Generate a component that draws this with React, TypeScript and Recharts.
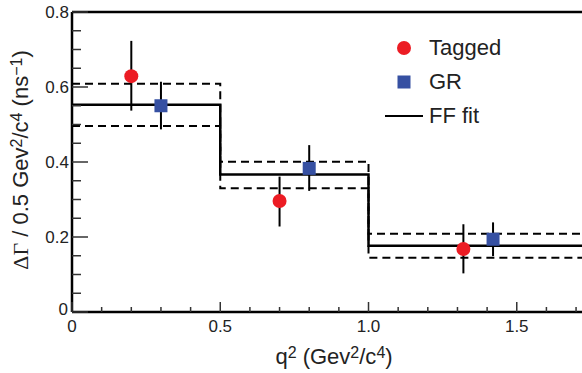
import {
  ComposedChart,
  Line,
  Scatter,
  ErrorBar,
  XAxis,
  YAxis,
  ReferenceLine,
  Legend,
} from 'recharts';

// bin edges of the q2 histogram and the form-factor fit with its error band
const binEdges = [0, 0.5, 1.0, 2.0];
const fitValues = [0.553, 0.367, 0.177, 0.177];
const fitUpper = [0.609, 0.401, 0.209, 0.209];
const fitLower = [0.496, 0.33, 0.145, 0.145];

// measured points: x, y, err down, err up
const taggedX = [0.2, 0.7, 1.32];
const taggedY = [0.629, 0.296, 0.168];
const taggedErrLow = [0.092, 0.068, 0.065];
const taggedErrHigh = [0.094, 0.065, 0.066];

const grX = [0.3, 0.8, 1.42];
const grY = [0.55, 0.383, 0.194];
const grErrLow = [0.063, 0.06, 0.045];
const grErrHigh = [0.064, 0.062, 0.045];

const xTicks = [0, 0.1, 0.2, 0.3, 0.4, 0.5, 0.6, 0.7, 0.8, 0.9, 1.0, 1.1, 1.2, 1.3, 1.4, 1.5, 1.6, 1.7];
const xMajor = [0, 0.5, 1.0, 1.5];
const xMajorLabels = ['0', '0.5', '1.0', '1.5'];
const yTicks = [0, 0.05, 0.1, 0.15, 0.2, 0.25, 0.3, 0.35, 0.4, 0.45, 0.5, 0.55, 0.6, 0.65, 0.7, 0.75, 0.8];
const yMajor = [0, 0.2, 0.4, 0.6, 0.8];
const yMajorLabels = ['0', '0.2', '0.4', '0.6', '0.8'];

const RED = '#ec1c24';
const BLUE = '#3650a2';
const FONT = '"Liberation Sans", Arial, Helvetica, sans-serif';
const SUP = 16;

const fitData = binEdges.map((x, i) => ({ x, fit: fitValues[i], up: fitUpper[i], lo: fitLower[i] }));
const taggedData = taggedX.map((x, i) => ({ x, y: taggedY[i], err: [taggedErrLow[i], taggedErrHigh[i]] }));
const grData = grX.map((x, i) => ({ x, y: grY[i], err: [grErrLow[i], grErrHigh[i]] }));

const findMajor = (list: number[], v: number) => list.findIndex((m) => Math.abs(m - v) < 1e-6);

function XTick(props: any) {
  const { x, y, payload } = props;
  const idx = findMajor(xMajor, payload.value);
  const len = idx >= 0 ? 10 : 5;
  return (
    <g>
      <line x1={x} y1={y} x2={x} y2={y - len} stroke="#333" strokeWidth={1.5} />
      {idx >= 0 && (
        <text x={x} y={y + 20} textAnchor="middle" fontSize={17} fontFamily={FONT} fill="#222">
          {xMajorLabels[idx]}
        </text>
      )}
    </g>
  );
}

function YTick(props: any) {
  const { x, y, payload } = props;
  const idx = findMajor(yMajor, payload.value);
  const len = idx >= 0 ? 16 : 9;
  return (
    <g>
      <line x1={x} y1={y} x2={x + len} y2={y} stroke="#333" strokeWidth={1.5} />
      {idx >= 0 && (
        <text x={x - (idx === 0 ? 4 : 3)} y={y + (idx === 0 ? 3 : 6)} textAnchor="end" fontSize={17} fontFamily={FONT} fill="#222">
          {yMajorLabels[idx]}
        </text>
      )}
    </g>
  );
}

function YTitle() {
  return (
    <text
      transform="translate(28,160) rotate(-90)"
      textAnchor="middle"
      fontSize={22}
      fontFamily={FONT}
      fill="#222"
    >
      <tspan fontFamily='"Liberation Serif", "Times New Roman", serif'>ΔΓ</tspan>
      <tspan> / 0.5 Gev</tspan>
      <tspan fontSize={SUP} dy={-6}>2</tspan>
      <tspan dy={6}>/c</tspan>
      <tspan fontSize={SUP} dy={-6}>4</tspan>
      <tspan dy={6}> (ns</tspan>
      <tspan fontSize={SUP} dy={-6}>−1</tspan>
      <tspan dy={6}>)</tspan>
    </text>
  );
}

function XTitle() {
  return (
    <text x={334} y={364} textAnchor="middle" fontSize={22} fontFamily={FONT} fill="#222">
      <tspan>q</tspan>
      <tspan fontSize={SUP} dy={-6}>2</tspan>
      <tspan dy={6}> (Gev</tspan>
      <tspan fontSize={SUP} dy={-6}>2</tspan>
      <tspan dy={6}>/c</tspan>
      <tspan fontSize={SUP} dy={-6}>4</tspan>
      <tspan dy={6}>)</tspan>
    </text>
  );
}

const legendItems = [
  { label: 'Tagged', kind: 'circle' },
  { label: 'GR', kind: 'square' },
  { label: 'FF fit', kind: 'line' },
];

function LegendBox() {
  return (
    <div style={{ fontFamily: FONT, fontSize: 22, color: '#222' }}>
      {legendItems.map((item) => (
        <div key={item.label} style={{ display: 'flex', alignItems: 'center', height: 34 }}>
          <svg width={40} height={34} style={{ display: 'block' }}>
            {item.kind === 'circle' && <circle cx={20} cy={17} r={7} fill={RED} />}
            {item.kind === 'square' && <rect x={13.5} y={10.5} width={13} height={13} fill={BLUE} />}
            {item.kind === 'line' && <line x1={1} y1={17} x2={39} y2={17} stroke="#000" strokeWidth={2} />}
          </svg>
          <span style={{ marginLeft: 5, lineHeight: '34px' }}>{item.label}</span>
        </div>
      ))}
    </div>
  );
}

export default function App() {
  return (
    <div style={{ position: 'absolute', left: 0, top: 0, width: 582, height: 373, background: '#fff' }}>
      <ComposedChart
        width={582}
        height={373}
        data={fitData}
        margin={{ top: 12, right: 0, left: 0, bottom: 0 }}
      >
        <XAxis
          dataKey="x"
          type="number"
          domain={[0, 1.72]}
          allowDataOverflow
          ticks={xTicks}
          interval={0}
          tickSize={0}
          tickMargin={0}
          tick={<XTick />}
          height={61}
          axisLine={{ stroke: '#000', strokeWidth: 2.5 }}
          label={<XTitle />}
        />
        <YAxis
          type="number"
          domain={[0, 0.8]}
          allowDataOverflow
          ticks={yTicks}
          interval={0}
          tickSize={0}
          tickMargin={0}
          tick={<YTick />}
          width={72}
          axisLine={{ stroke: '#000', strokeWidth: 2.5 }}
          label={<YTitle />}
        />
        <ReferenceLine y={0.8} stroke="#000" strokeWidth={2.5} ifOverflow="visible" />
        <Line dataKey="up" type="stepAfter" stroke="#000" strokeWidth={2} strokeDasharray="8 5" dot={false} isAnimationActive={false} />
        <Line dataKey="lo" type="stepAfter" stroke="#000" strokeWidth={2} strokeDasharray="8 5" dot={false} isAnimationActive={false} />
        <Line dataKey="fit" type="stepAfter" stroke="#000" strokeWidth={2.5} dot={false} isAnimationActive={false} />
        <Scatter
          data={taggedData}
          dataKey="y"
          isAnimationActive={false}
          shape={(p: any) => <circle cx={p.cx} cy={p.cy} r={7} fill={RED} />}
        >
          <ErrorBar dataKey="err" direction="y" width={0} stroke="#000" strokeWidth={2} />
        </Scatter>
        <Scatter
          data={grData}
          dataKey="y"
          isAnimationActive={false}
          shape={(p: any) => <rect x={p.cx - 6.5} y={p.cy - 6.5} width={13} height={13} fill={BLUE} />}
        >
          <ErrorBar dataKey="err" direction="y" width={0} stroke="#000" strokeWidth={2} />
        </Scatter>
        <Legend
          layout="vertical"
          align="center"
          verticalAlign="middle"
          content={<LegendBox />}
          wrapperStyle={{ position: 'absolute', left: 384, top: 31, width: 180 }}
        />
      </ComposedChart>
    </div>
  );
}
